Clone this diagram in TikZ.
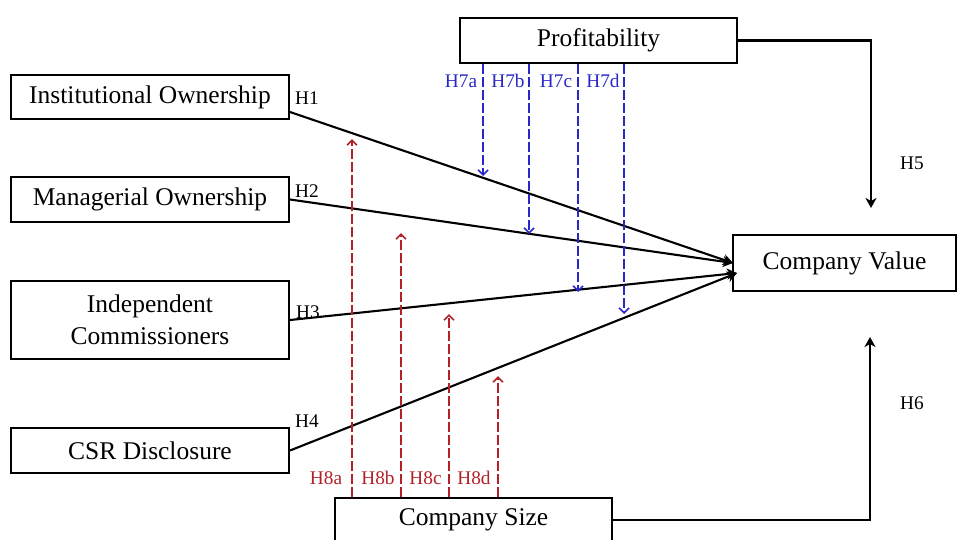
\documentclass[tikz,border=0pt]{standalone}
\usepackage{fontspec}
\setmainfont{Liberation Serif}
\usetikzlibrary{arrows.meta}
\definecolor{hblue}{RGB}{40,40,200}
\definecolor{hred}{RGB}{178,34,40}
\begin{document}
\begin{tikzpicture}[x=1pt,y=-1pt,
  box/.style={draw,line width=2pt,inner sep=0pt,align=center,
    font=\fontsize{25.5}{33}\selectfont},
  hyp/.style={font=\fontsize{19.3}{20}\selectfont,inner sep=0pt},
  main/.style={line width=2.1pt,-{Stealth[length=10pt,width=11pt,inset=3pt]}},
  modb/.style={hblue,line width=1.6pt,dash pattern=on 10pt off 3pt,
    -{Straight Barb[length=5pt,width=10pt]}},
  modr/.style={hred,line width=1.6pt,dash pattern=on 10pt off 3pt,
    -{Straight Barb[length=5pt,width=10pt]}}
]
\useasboundingbox (0,0) rectangle (957,539);
\clip (0,0) rectangle (957,539);

% boxes
\node[box,minimum width=278pt,minimum height=44pt] (io) at (150,97) {Institutional Ownership};
\node[box,minimum width=278pt,minimum height=45pt] (mo) at (150,199.5) {Managerial Ownership};
\node[box,minimum width=278pt,minimum height=78pt] (ic) at (150,320) {Independent\\[-1pt]Commissioners};
\node[box,minimum width=278pt,minimum height=45pt] (csr) at (150,450.5) {CSR Disclosure};
\node[box,minimum width=277pt,minimum height=45pt] (prof) at (598.5,40.5) {Profitability};
\node[box,minimum width=223pt,minimum height=56pt] (cv) at (844.5,263) {Company Value};
\node[box,minimum width=277pt,minimum height=44pt] (cs) at (473.5,520) {Company Size};

% convergence points
\coordinate (cvA) at (733,263);
\coordinate (cvB) at (737,273);

% main paths
\draw[main] ([yshift=-15pt]io.east) -- (cvA);
\draw[main] (mo.east) -- (cvA);
\draw[main] (ic.east) -- (cvB);
\draw[main] (csr.east) -- (cvB);

\node[hyp] (h1) at (307,98) {H1};
\node[hyp] (h2) at (307,191) {H2};
\node[hyp] (h3) at (308,312) {H3};
\node[hyp] (h4) at (307,421) {H4};

% H5, H6
\coordinate (h5end) at (871,208);
\coordinate (h6end) at (870,337);
\draw[main] (prof.east) -| (h5end);
\draw[main] (cs.east) -| (h6end);
\node[hyp] (h5) at (912,163) {H5};
\node[hyp] (h6) at (912,403) {H6};

% moderation: profitability
\coordinate (b1) at (483,176);
\coordinate (b2) at (529,234);
\coordinate (b3) at (578,292);
\coordinate (b4) at (624,314);
\draw[modb] (prof.south -| b1) -- (b1);
\draw[modb] (prof.south -| b2) -- (b2);
\draw[modb] (prof.south -| b3) -- (b3);
\draw[modb] (prof.south -| b4) -- (b4);
\node[hyp,text=hblue] (h7a) at (461,81) {H7a};
\node[hyp,text=hblue] (h7b) at (508,81) {H7b};
\node[hyp,text=hblue] (h7c) at (556,81) {H7c};
\node[hyp,text=hblue] (h7d) at (603,81) {H7d};

% moderation: company size
\coordinate (r1) at (352,139);
\coordinate (r2) at (401,233);
\coordinate (r3) at (449,314);
\coordinate (r4) at (498,376);
\draw[modr] (cs.north -| r1) -- (r1);
\draw[modr] (cs.north -| r2) -- (r2);
\draw[modr] (cs.north -| r3) -- (r3);
\draw[modr] (cs.north -| r4) -- (r4);
\node[hyp,text=hred] (h8a) at (326,478) {H8a};
\node[hyp,text=hred] (h8b) at (378,478) {H8b};
\node[hyp,text=hred] (h8c) at (425.5,478) {H8c};
\node[hyp,text=hred] (h8d) at (474,478) {H8d};
\end{tikzpicture}
\end{document}
